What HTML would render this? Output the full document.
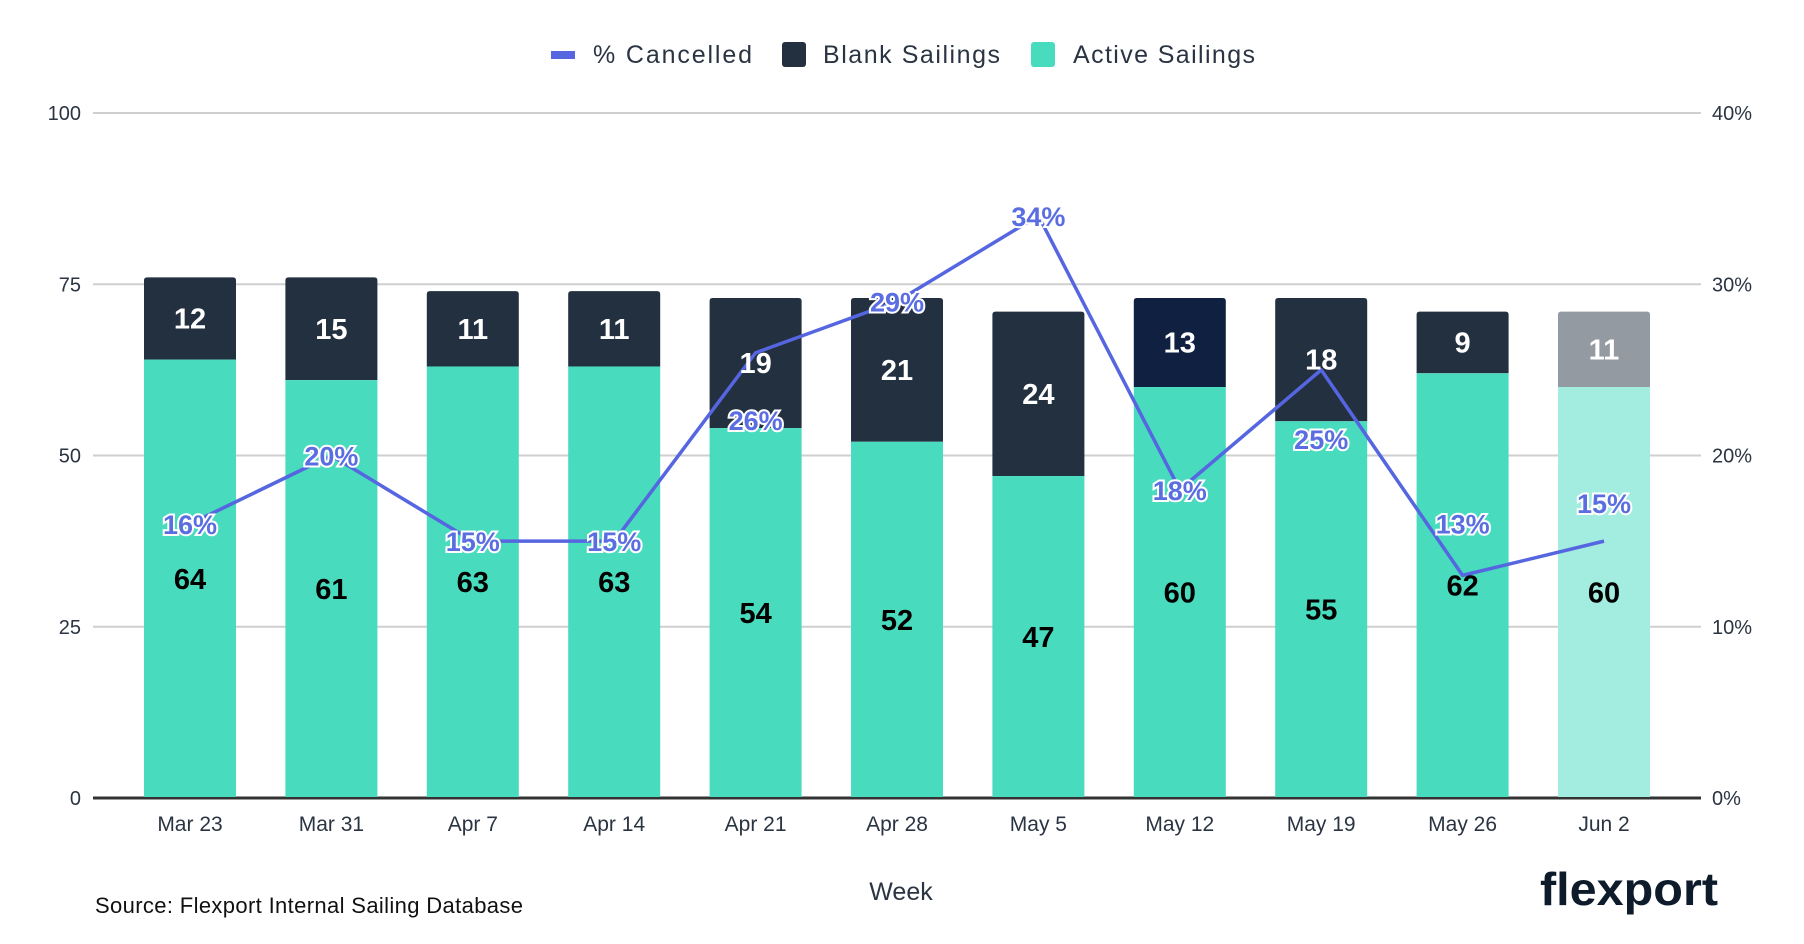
<!DOCTYPE html>
<html><head><meta charset="utf-8"><style>
body{margin:0;background:#fff;}
svg{display:block;font-family:"Liberation Sans",sans-serif;}
</style></head><body>
<svg id="chart" width="1804" height="944">
 <g>
  <rect x="551" y="51" width="24" height="8" fill="#5566e0"/>
  <text x="593" y="63" font-size="25" fill="#2b3442" textLength="159">% Cancelled</text>
  <rect x="782" y="42" width="24" height="25" rx="3" fill="#23303f"/>
  <text x="823" y="63" font-size="25" fill="#2b3442" textLength="177">Blank Sailings</text>
  <rect x="1031" y="42" width="24" height="25" rx="3" fill="#48dbbe"/>
  <text x="1073" y="63" font-size="25" fill="#2b3442" textLength="182">Active Sailings</text>
 </g>
 <g id="grid"></g><g id="bars"></g><g id="line"></g><g id="labels"></g>
 <text x="901" y="900" font-size="25" text-anchor="middle" fill="#2b3442">Week</text>
 <text x="95" y="913" font-size="22" fill="#111" textLength="428">Source: Flexport Internal Sailing Database</text>
 <text x="1540" y="905" font-size="46" font-weight="bold" fill="#0d1b2a" textLength="178" lengthAdjust="spacingAndGlyphs">flexport</text>
</svg>
<script>
const categories=["Mar 23","Mar 31","Apr 7","Apr 14","Apr 21","Apr 28","May 5","May 12","May 19","May 26","Jun 2"];
const activeVals=[64,61,63,63,54,52,47,60,55,62,60];
const blankVals=[12,15,11,11,19,21,24,13,18,9,11];
const pctVals=[16,20,15,15,26,29,34,18,25,13,15];
const leftTicks=[0,25,50,75,100];
const rightTicks=[0,10,20,30,40];
const labelShift=[0,0,0,0,67,0,0,0,69,-52,-38];
const NS="http://www.w3.org/2000/svg";
const x0=93,x1=1701,yB=798,yT=113;
const xc=i=>190+i*141.4;
const yL=v=>yB-(v/100)*(yB-yT);
const yR=v=>yB-(v/40)*(yB-yT);
function el(tag,attrs,parent,txt){const e=document.createElementNS(NS,tag);for(const k in attrs)e.setAttribute(k,attrs[k]);if(txt!==undefined)e.textContent=txt;parent.appendChild(e);return e;}
const grid=document.getElementById('grid');
leftTicks.forEach((t,i)=>{
 const y=yL(t);
 const g=el('line',{x1:x0,x2:x1,y1:y,y2:y,stroke:t===0?'#333':'#cfcfcf','stroke-width':t===0?3:2},grid);
 
 
 const l=el('text',{x:81,y:y+7,'font-size':20,'text-anchor':'end',fill:'#2b3442'},grid,String(t));
 
 
});
rightTicks.forEach(t=>{
 const r=el('text',{x:1712,y:yR(t)+7,'font-size':20,fill:'#2b3442'},grid,t+'%');
 
 
});
const bars=document.getElementById('bars'),labels=document.getElementById('labels');
const bw=92;
categories.forEach((c,i)=>{
 const last=i===categories.length-1;
 const ac=last?'#a3ece0':'#48dbbe';
 const bc=last?'#939aa1':(i===7?'#0f2040':'#23303f');
 const top=yL(activeVals[i]+blankVals[i]);
 const b=el('path',{d:`M${xc(i)-bw/2},${yL(activeVals[i])} V${top+3} q0,-3 3,-3 H${xc(i)+bw/2-3} q3,0 3,3 V${yL(activeVals[i])} Z`,fill:bc},bars);
 
 
 const a=el('rect',{x:xc(i)-bw/2,y:yL(activeVals[i]),width:bw,height:yB-yL(activeVals[i])-1,fill:ac},bars);
 
 
 const tb=el('text',{x:xc(i),y:(top+yL(activeVals[i]))/2+10,'font-size':29,'font-weight':'bold','text-anchor':'middle',fill:'#fff'},labels,String(blankVals[i]));
 
 
 const ta=el('text',{x:xc(i),y:(yB+yL(activeVals[i]))/2+10,'font-size':29,'font-weight':'bold','text-anchor':'middle',fill:'#000'},labels,String(activeVals[i]));
 
 
 const xl=el('text',{x:xc(i),y:831,'font-size':21,'text-anchor':'middle',fill:'#2b3442'},grid,c);
 
 
});
const line=document.getElementById('line');
const pts=pctVals.map((v,i)=>xc(i)+','+yR(v)).join(' ');
const pl=el('polyline',{points:pts,fill:'none',stroke:'#5566e0','stroke-width':3.5,'stroke-linejoin':'round'},line);


pctVals.forEach((v,i)=>{
 const t=el('text',{x:xc(i),y:yR(v)+labelShift[i]+10,'font-size':27,'font-weight':'bold','text-anchor':'middle',fill:'#5b6ee1',stroke:'#fff','stroke-width':4,'paint-order':'stroke'},labels,v+'%');
 
 
});
</script>
</body></html>
